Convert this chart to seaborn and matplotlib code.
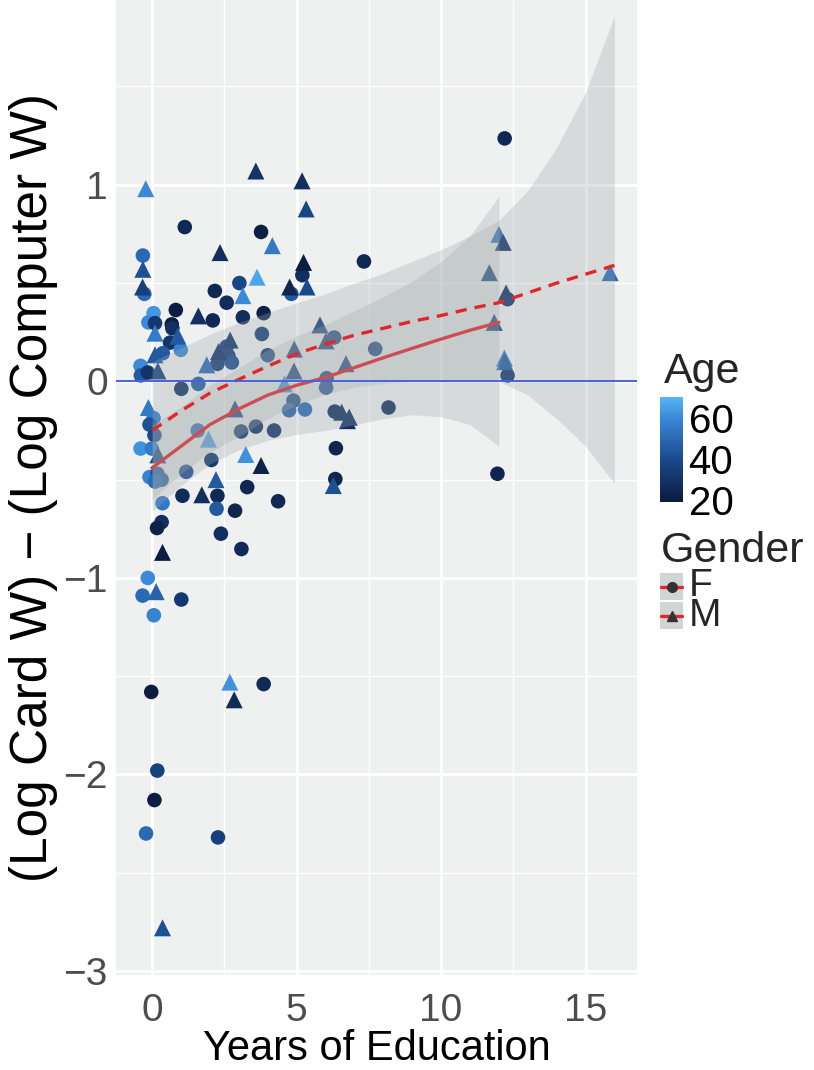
import numpy as np
import pandas as pd
import seaborn as sns
import matplotlib.pyplot as plt
from matplotlib.colors import LinearSegmentedColormap, Normalize
from matplotlib.cm import ScalarMappable
from matplotlib.lines import Line2D
from matplotlib.patches import Rectangle

# jittered years of education, log ratio, age, gender
edu = [-0.22, 1.13, -0.32, -0.32, 2.35, -0.33, 2.17, 3.02, 3.59, 5.19,
       5.33, 3.77, 4.16, 3.63, 5.24, 5.20, -0.27, 3.14, 4.76, 4.82,
       5.36, 7.33, 2.58, 0.82, 1.60, 2.10, 3.14, 3.86, 0.05, -0.13,
       0.10, 0.68, 0.70, 0.10, 0.89, 0.62, 0.99, 0.10, 0.37, -0.40,
       -0.39, -0.15, 0.20, 1.01, 1.60, 2.30, 1.89, 2.26, 2.58, 2.64,
       2.76, 2.70, -0.13, 0.05, -0.09, 0.08, -0.40, -0.01, 0.20, -0.09,
       0.18, 0.33, 0.10, 1.18, 1.58, 1.95, 2.05, 2.87, 3.08, 3.59,
       4.22, 3.24, 3.77, 2.21, 1.05, 1.72, 2.26, 2.23, 2.87, 3.29,
       4.36, 0.36, 0.33, 0.17, 2.38, 3.09, 0.36, -0.15, -0.33, 0.14,
       1.01, 0.06, 2.69, 3.86, -0.03, 2.84, 0.18, 0.08, -0.21, 2.28,
       0.36, 12.20, 12.00, 12.15, 11.67, 15.85, 12.25, 12.30, 11.84, 12.19,
       12.20, 12.30, 6.30, 7.72, 6.71, 8.18, 6.32, 6.56, 6.82, 6.76,
       6.36, 6.34, 6.27, 11.95, 3.80, 5.81, 6.02, 4.92, 4.00, 4.91,
       4.58, 6.04, 6.02, 4.89, 4.74, 5.29]
diff = [0.98, 0.785, 0.64, 0.57, 0.655, 0.48, 0.46, 0.50, 1.07, 1.02,
        0.877, 0.76, 0.69, 0.53, 0.605, 0.54, 0.445, 0.436, 0.48, 0.445,
        0.48, 0.61, 0.40, 0.363, 0.333, 0.31, 0.326, 0.347, 0.347, 0.30,
        0.296, 0.29, 0.27, 0.245, 0.23, 0.197, 0.16, 0.135, 0.143, 0.079,
        0.03, 0.045, 0.053, -0.038, -0.013, 0.152, 0.084, 0.089, 0.177, 0.13,
        0.096, 0.21, -0.133, -0.187, -0.22, -0.274, -0.342, -0.342, -0.374, -0.487,
        -0.47, -0.50, -0.51, -0.46, -0.25, -0.294, -0.40, -0.14, -0.255, -0.23,
        -0.25, -0.372, -0.428, -0.50, -0.582, -0.577, -0.582, -0.648, -0.658, -0.538,
        -0.61, -0.62, -0.716, -0.746, -0.775, -0.853, -0.87, -1.0, -1.09, -1.07,
        -1.11, -1.19, -1.53, -1.54, -1.58, -1.62, -1.98, -2.13, -2.30, -2.32,
        -2.78, 1.236, 0.748, 0.707, 0.553, 0.553, 0.45, 0.418, 0.30, 0.118,
        0.10, 0.03, 0.223, 0.165, 0.09, -0.133, -0.154, -0.157, -0.182, -0.20,
        -0.34, -0.497, -0.53, -0.47, 0.241, 0.287, 0.206, 0.164, 0.133, 0.053,
        -0.013, 0.016, -0.032, -0.098, -0.147, -0.143]
age = [60, 25, 50, 42, 28, 35, 25, 38, 30, 28,
       38, 21, 55, 66, 20, 28, 50, 60, 24, 45,
       40, 25, 27, 20, 28, 25, 27, 22, 63, 60,
       32, 20, 28, 56, 45, 30, 58, 45, 45, 60,
       45, 30, 35, 30, 45, 30, 50, 35, 35, 35,
       40, 30, 55, 55, 42, 40, 62, 55, 38, 58,
       45, 45, 50, 40, 50, 65, 32, 33, 30, 30,
       30, 62, 22, 45, 26, 28, 25, 45, 24, 25,
       25, 55, 28, 22, 28, 26, 20, 60, 50, 48,
       32, 58, 62, 26, 20, 26, 36, 20, 50, 35,
       42, 25, 50, 30, 35, 50, 30, 30, 35, 55,
       45, 30, 35, 35, 35, 28, 28, 28, 28, 28,
       24, 24, 42, 24, 35, 35, 35, 35, 35, 35,
       62, 35, 40, 35, 48, 50]
gender = ['M', 'F', 'F', 'M', 'M', 'M', 'F', 'F', 'M', 'M',
          'M', 'F', 'M', 'M', 'M', 'F', 'F', 'M', 'M', 'F',
          'M', 'F', 'F', 'F', 'M', 'F', 'F', 'F', 'F', 'F',
          'F', 'F', 'F', 'M', 'M', 'F', 'F', 'M', 'F', 'F',
          'F', 'F', 'M', 'F', 'F', 'M', 'M', 'F', 'F', 'F',
          'F', 'M', 'M', 'F', 'F', 'F', 'F', 'F', 'M', 'F',
          'F', 'F', 'F', 'F', 'F', 'M', 'F', 'M', 'F', 'F',
          'F', 'M', 'M', 'M', 'F', 'M', 'F', 'F', 'F', 'F',
          'F', 'F', 'F', 'F', 'F', 'F', 'M', 'F', 'F', 'M',
          'F', 'F', 'M', 'F', 'F', 'M', 'F', 'F', 'F', 'F',
          'M', 'F', 'M', 'M', 'M', 'M', 'M', 'F', 'M', 'M',
          'M', 'F', 'F', 'F', 'M', 'F', 'F', 'M', 'M', 'M',
          'F', 'F', 'M', 'F', 'F', 'M', 'M', 'M', 'F', 'M',
          'M', 'F', 'F', 'F', 'F', 'F']

# loess fits with confidence bands
fit_x_f = [0, 1, 2, 3, 4, 5, 6, 7, 8, 9, 10, 11, 12]
fit_f = [-0.44, -0.33, -0.22, -0.14, -0.07, -0.02, 0.02, 0.07, 0.12, 0.168, 0.215, 0.26, 0.30]
lo_f = [-0.66, -0.53, -0.42, -0.35, -0.30, -0.27, -0.25, -0.22, -0.19, -0.17, -0.18, -0.22, -0.33]
hi_f = [-0.22, -0.13, -0.02, 0.07, 0.16, 0.23, 0.29, 0.36, 0.43, 0.51, 0.61, 0.74, 0.94]
fit_x_m = [0, 1, 2, 3, 4, 5, 6, 7, 8, 9, 10, 11, 12, 13, 14, 15, 16]
fit_m = [-0.25, -0.15, -0.06, 0.01, 0.077, 0.14, 0.19, 0.235, 0.27, 0.305, 0.335, 0.37, 0.40, 0.45, 0.50, 0.545, 0.59]
lo_m = [-0.60, -0.47, -0.36, -0.28, -0.19, -0.12, -0.065, -0.03, -0.01, 0.0, 0.0, 0.0, 0.0, -0.07, -0.19, -0.33, -0.52]
hi_m = [0.10, 0.17, 0.24, 0.30, 0.35, 0.40, 0.445, 0.50, 0.55, 0.61, 0.67, 0.74, 0.82, 0.97, 1.19, 1.47, 1.86]

df = pd.DataFrame({'edu': edu, 'diff': diff, 'age': age, 'gender': gender})

sns.set_theme(style='darkgrid', rc={'axes.facecolor': '#EFF0F0', 'grid.color': 'white',
                                    'grid.linewidth': 2.0})
plt.rcParams['font.family'] = ['Liberation Sans', 'DejaVu Sans']

cmap = LinearSegmentedColormap.from_list(
    'age', [(0.0, '#0B1B3D'), (0.41, '#1A4A8E'), (0.8, '#3A88D8'), (1.0, '#58B6F6')])
norm = Normalize(19, 70)

fig = plt.figure(figsize=(8.14, 10.70), dpi=100)
ax = fig.add_axes([116 / 814, 1 - 975 / 1070, 521 / 814, 975 / 1070])

sns.scatterplot(data=df[df.gender == 'F'], x='edu', y='diff', hue='age', palette=cmap,
                hue_norm=norm, marker='o', s=110, linewidth=0, legend=False, ax=ax, zorder=2)
sns.scatterplot(data=df[df.gender == 'M'], x='edu', y='diff', hue='age', palette=cmap,
                hue_norm=norm, marker='^', s=150, linewidth=0, legend=False, ax=ax, zorder=2)

red = '#E3262C'
band = '#A0AAAC'
ax.fill_between(fit_x_f, lo_f, hi_f, color=band, alpha=0.3, lw=0, zorder=3)
sns.lineplot(x=fit_x_f, y=fit_f, color=red, lw=2.4, ax=ax, zorder=4)
ax.fill_between(fit_x_m, lo_m, hi_m, color=band, alpha=0.3, lw=0, zorder=5)
sns.lineplot(x=fit_x_m, y=fit_m, color=red, lw=2.4, ax=ax, zorder=6)
ax.lines[-1].set_dashes((3.4, 2.4))
ax.axhline(0, color='#4763D9', lw=1.4, zorder=7)

ax.set_xlim(-1.25, 16.78)
ax.set_ylim(-3.02, 1.94)
ax.set_xticks([0, 5, 10, 15])
ax.set_yticks([-3, -2, -1, 0, 1])
ax.set_yticklabels(['\u22123', '\u22122', '\u22121', '0', '1'])
ax.set_xticks([2.5, 7.5, 12.5], minor=True)
ax.set_yticks([-2.5, -1.5, -0.5, 0.5, 1.5], minor=True)
ax.grid(which='minor', color='white', lw=1.0)
ax.tick_params(which='major', length=4, width=1, color='#333333', labelsize=28,
               labelcolor='#4D4D4D')
ax.tick_params(axis='x', pad=9)
ax.tick_params(axis='y', pad=2)
ax.tick_params(which='minor', length=0)
for s in ax.spines.values():
    s.set_visible(False)
ax.set_xlabel('Years of Education', fontsize=30, color='black', labelpad=0)
ax.set_ylabel('(Log Card W) \u2212 (Log Computer W)', fontsize=37, color='black',
              labelpad=4)

# age colourbar
cax = fig.add_axes([660 / 814, 1 - 502 / 1070, 23 / 814, 105 / 1070])
cb = fig.colorbar(ScalarMappable(norm=norm, cmap=cmap), cax=cax, ticks=[20, 40, 60])
cb.outline.set_visible(False)
cax.tick_params(length=5, width=1, color='white', direction='in', labelsize=29,
                labelcolor='black', pad=4, left=True)
fig.text(664 / 814, 1 - 372 / 1070, 'Age', fontsize=31, va='center', ha='left')

# gender legend
fig.text(661 / 814, 1 - 551 / 1070, 'Gender', fontsize=31, va='center', ha='left')
for i, (lab, mk) in enumerate([('F', 'o'), ('M', '^')]):
    y0 = 573 + i * 29
    fig.add_artist(Rectangle((660 / 814, 1 - (y0 + 27) / 1070), 23 / 814, 27 / 1070,
                             transform=fig.transFigure, color='#D2D5D6', lw=0))
    yc = 1 - (y0 + 13.5) / 1070
    fig.add_artist(Line2D([661 / 814, 682 / 814], [yc, yc], transform=fig.transFigure,
                          color=red, lw=2.4))
    fig.add_artist(Line2D([671.5 / 814], [yc], transform=fig.transFigure, marker=mk,
                          color='#333333', markersize=7, lw=0))
    fig.text(689 / 814, yc, lab, fontsize=28, va='center', ha='left')

fig.savefig('out.png', dpi=100)
